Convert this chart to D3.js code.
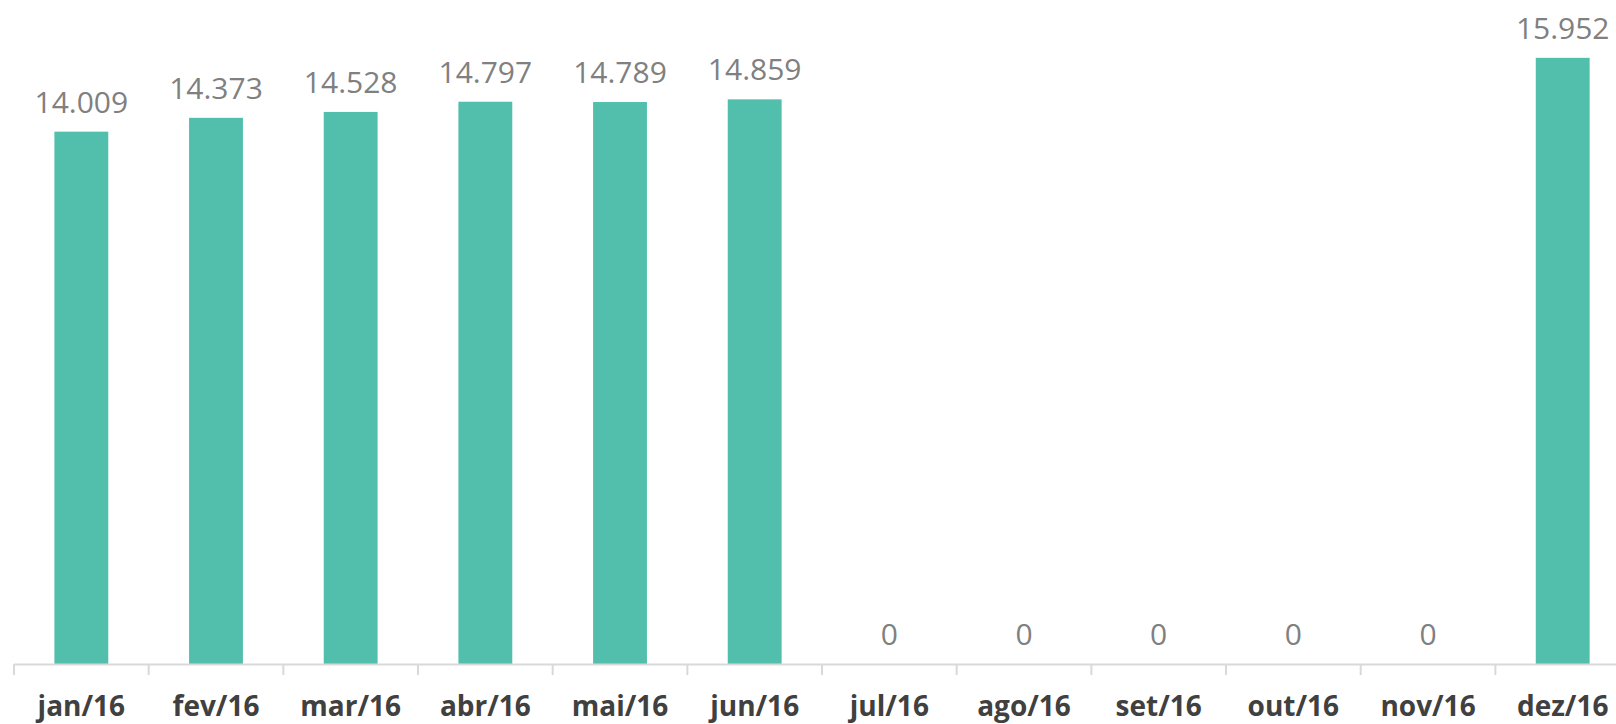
<!DOCTYPE html>
<html lang="pt">
<head>
  <meta charset="UTF-8" />
  <title>Mensal 2016</title>
  <script src="https://d3js.org/d3.v7.min.js"></script>
  <style>
    body {
      margin: 0;
      background: #fff;
      overflow: hidden;
    }
    svg {
      display: block;
    }
    .value {
      font-family: "Open Sans", sans-serif;
      font-size: 30px;
      fill: #808080;
    }
    .cat {
      font-family: "Open Sans", sans-serif;
      font-size: 28px;
      font-weight: bold;
      fill: #404040;
    }
  </style>
</head>
<body>
  <div id="chart"></div>

  <script>
    const months = ["jan/16", "fev/16", "mar/16", "abr/16", "mai/16", "jun/16",
                    "jul/16", "ago/16", "set/16", "out/16", "nov/16", "dez/16"];
    const values = [14009, 14373, 14528, 14797, 14789, 14859, 0, 0, 0, 0, 0, 15952];
    const valueLabels = ["14.009", "14.373", "14.528", "14.797", "14.789", "14.859",
                         "0", "0", "0", "0", "0", "15.952"];

    const width = 1616;
    const height = 724;
    const baseY = 664;
    const left = 14;
    const step = 134.67;

    const svg = d3.select("#chart")
      .append("svg")
      .attr("width", width)
      .attr("height", height);

    const x = d3.scaleBand()
      .domain(months)
      .range([left, left + step * months.length])
      .padding(0);

    const y = d3.scaleLinear()
      .domain([0, 16000])
      .range([baseY, baseY - 16000 * 0.038]);

    const barW = x.bandwidth() * 0.4;

    // bars
    svg.append("g")
      .selectAll("rect")
      .data(values)
      .enter()
      .append("rect")
      .attr("x", (d, i) => x(months[i]) + (x.bandwidth() - barW) / 2)
      .attr("y", d => y(d))
      .attr("width", barW)
      .attr("height", d => baseY - y(d))
      .attr("fill", "#52bfad");

    // value labels
    svg.append("g")
      .selectAll("text")
      .data(values)
      .enter()
      .append("text")
      .attr("class", "value")
      .attr("x", (d, i) => x(months[i]) + x.bandwidth() / 2)
      .attr("y", d => y(d) - 19)
      .attr("text-anchor", "middle")
      .text((d, i) => valueLabels[i]);

    // axis line + ticks at band boundaries
    const axis = svg.append("g");
    axis.append("line")
      .attr("x1", left)
      .attr("x2", width)
      .attr("y1", baseY + 0.5)
      .attr("y2", baseY + 0.5)
      .attr("stroke", "#d9d9d9")
      .attr("stroke-width", 2);

    axis.selectAll("line.tick")
      .data(months)
      .enter()
      .append("line")
      .attr("class", "tick")
      .attr("x1", d => x(d))
      .attr("x2", d => x(d))
      .attr("y1", baseY)
      .attr("y2", baseY + 11)
      .attr("stroke", "#d9d9d9")
      .attr("stroke-width", 2);

    // category labels
    svg.append("g")
      .selectAll("text")
      .data(months)
      .enter()
      .append("text")
      .attr("class", "cat")
      .attr("x", d => x(d) + x.bandwidth() / 2)
      .attr("y", 716)
      .attr("text-anchor", "middle")
      .text(d => d);
  </script>
</body>
</html>
